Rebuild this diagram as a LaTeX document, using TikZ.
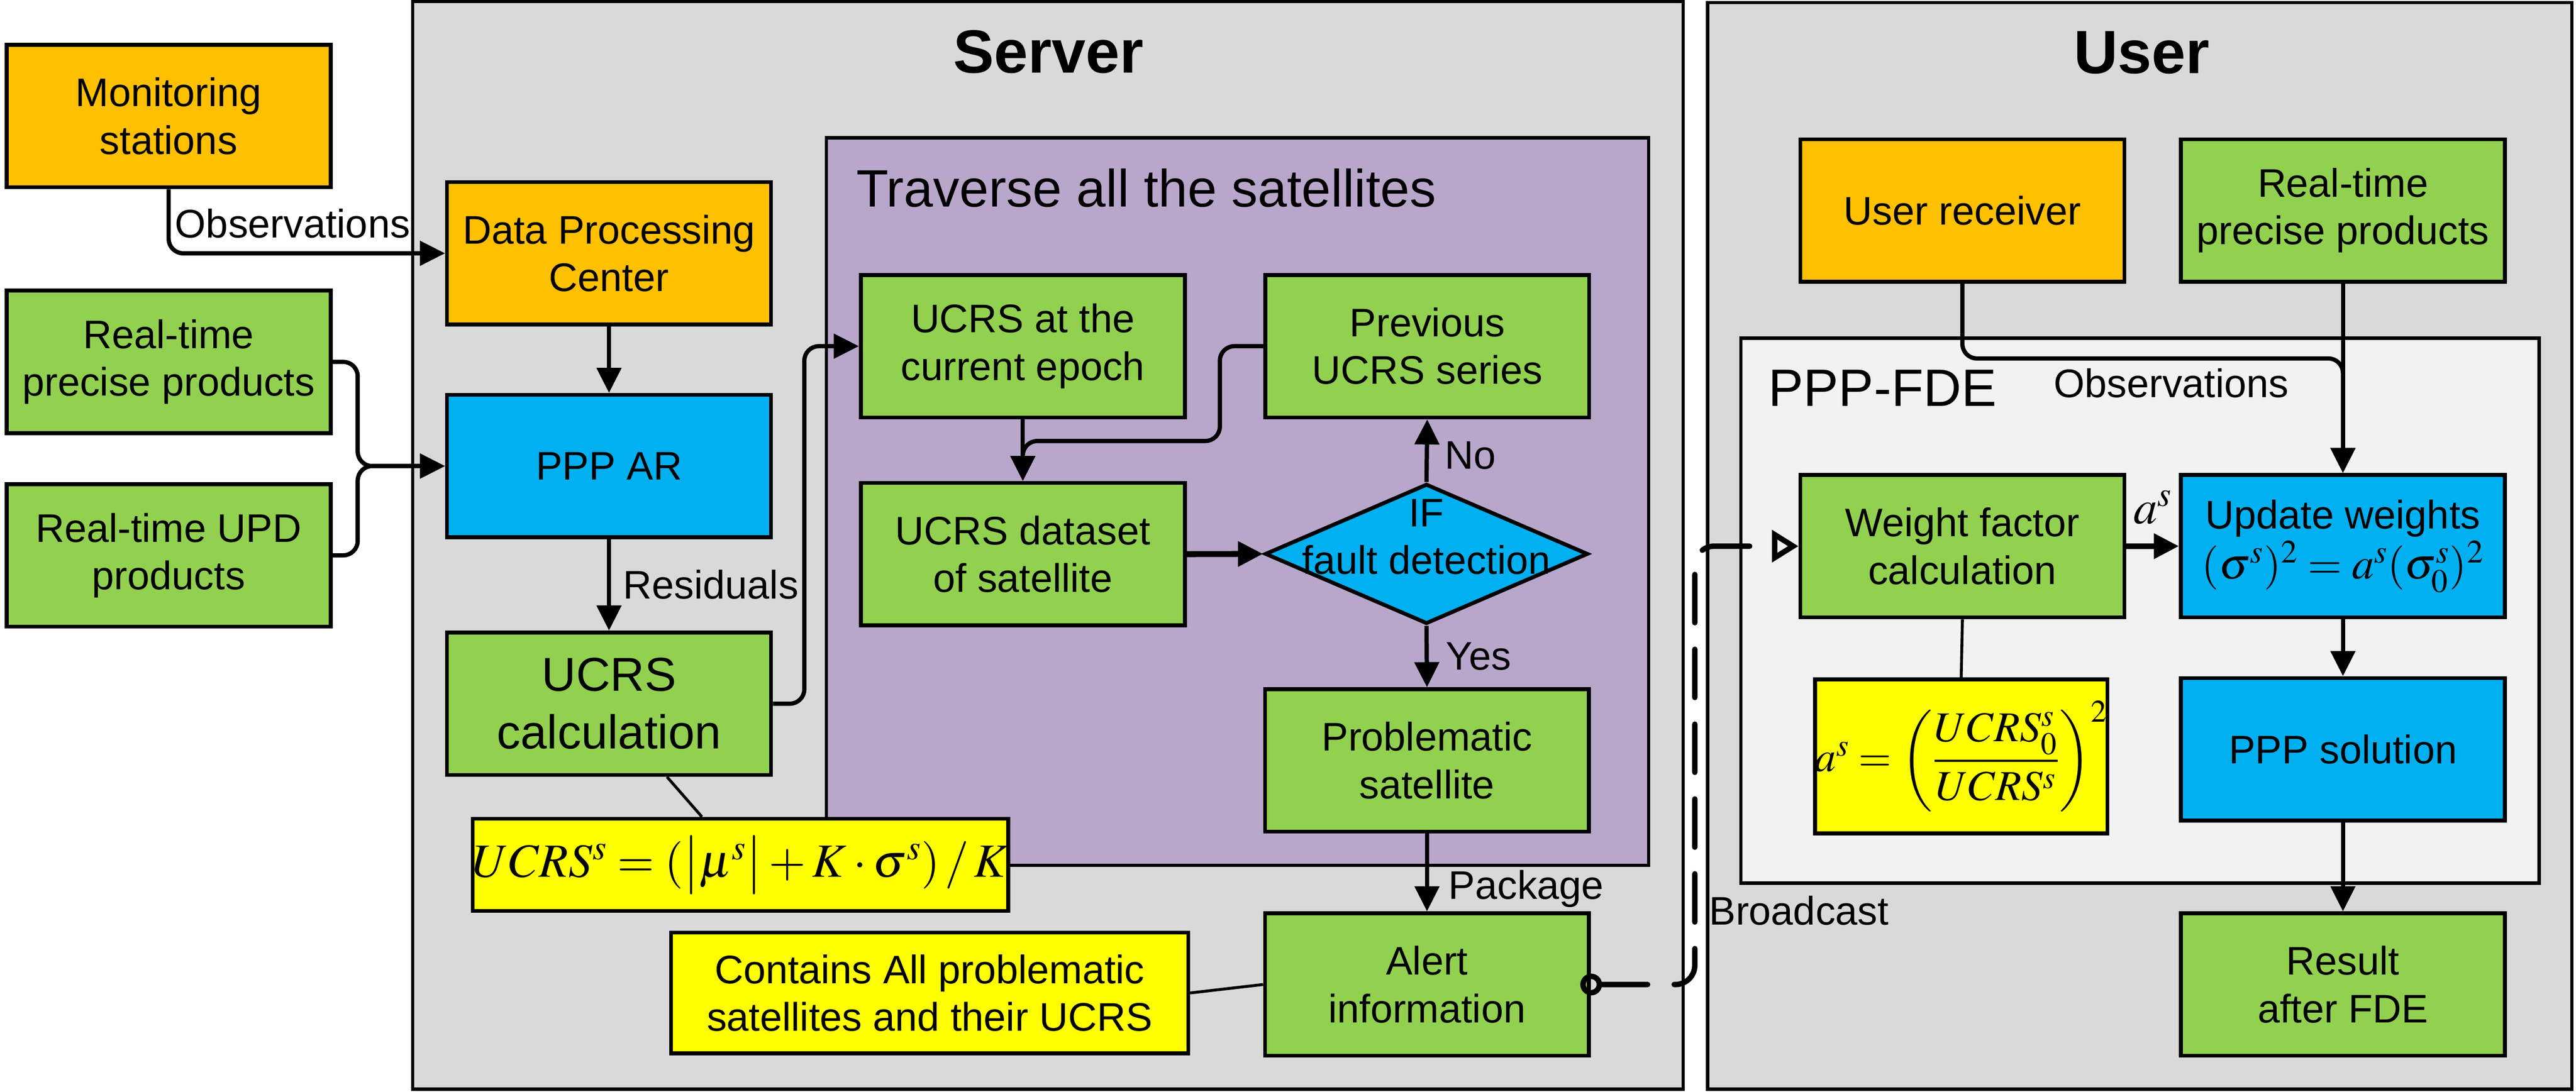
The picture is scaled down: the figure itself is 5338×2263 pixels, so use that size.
\documentclass[tikz,border=0pt]{standalone}
\usepackage{amsmath}
\usepackage{mathptmx}
\usepackage[no-math]{fontspec}
\setmainfont{Liberation Sans}
\usetikzlibrary{arrows.meta,shapes.geometric,calc}
\definecolor{orgc}{HTML}{FFC000}
\definecolor{grnc}{HTML}{92D050}
\definecolor{bluc}{HTML}{00B0F0}
\definecolor{yelc}{HTML}{FFFF00}
\definecolor{pnlc}{HTML}{D9D9D9}
\definecolor{prpc}{HTML}{B8A7CA}
\definecolor{fdec}{HTML}{F2F2F2}

\begin{document}
\begin{tikzpicture}[x=0.01cm, y=-0.01cm,
		txt/.style = {font=\fontsize{23.5}{28}\selectfont},
		box/.style = {draw, line width=2.3pt, minimum width=6.71cm, minimum height=2.95cm, inner sep=0pt, align=center, txt},
		orbox/.style = {box, fill=orgc},
		grbox/.style = {box, fill=grnc},
		blbox/.style = {box, fill=bluc},
		ylbox/.style = {box, fill=yelc},
		panel/.style = {draw, line width=2pt, inner sep=0pt},
		title/.style = {font=\fontsize{36}{42}\selectfont\bfseries, inner sep=0pt},
		lab/.style = {txt, anchor=west, inner sep=0pt},
		arr/.style = {line width=2.5pt, rounded corners=0.3cm, -{Triangle[length=0.52cm,width=0.5cm]}},
		thin/.style = {line width=1.7pt}]
				\useasboundingbox (0,0) rectangle (5338,2263);
				\node[panel, fill=pnlc, minimum width=26.31cm, minimum height=22.53cm] (srv) at (2171.5,1130.5) {};
				\node[panel, fill=pnlc, minimum width=17.9cm, minimum height=22.51cm] (usr) at (4434,1131.5) {};
				\node[panel, fill=prpc, minimum width=17.03cm, minimum height=15.07cm] (trv) at (2564.5,1039.5) {};
				\node[panel, fill=fdec, minimum width=16.53cm, minimum height=11.29cm] (fde) at (4434.5,1265.5) {};
				\node[title] (srvt) at (2173,107) {Server};
				\node[title] (usrt) at (4438,109) {User};
				\node[lab, font=\fontsize{31}{36}\selectfont] (trvt) at (1774,390) {Traverse all the satellites};
				\node[lab, font=\fontsize{31}{36}\selectfont] (fdet) at (3664,804) {PPP-FDE};

				\node[orbox] (ms) at (349.5,240.5) {Monitoring\\stations};
				\node[grbox] (rtp) at (349.5,750) {Real-time\\precise products};
				\node[grbox] (upd) at (349.5,1151) {Real-time UPD\\products};
				\node[orbox] (dpc) at (1262,525) {Data Processing\\Center};
				\node[blbox] (ppp) at (1262,966) {PPP AR};
				\node[grbox, font=\fontsize{28}{34}\selectfont] (ucal) at (1262,1458.5) {UCRS\\calculation};
				\node[grbox] (cur) at (2119.5,717.5) {UCRS at the\\current epoch};
				\node[grbox] (prev) at (2957.5,717.5) {Previous\\UCRS series};
				\node[grbox] (dset) at (2119.5,1148.5) {UCRS dataset\\of satellite};
				\node[draw, line width=2.3pt, fill=bluc, diamond, minimum width=6.69cm, minimum height=2.9cm, inner sep=0pt] (dia) at (2956,1148) {};
				\node[txt, align=center, inner sep=0pt] (ift) at (2956,1113) {IF\\fault detection};
				\node[grbox] (prob) at (2957,1576) {Problematic\\satellite};
				\node[grbox] (alert) at (2957,2040.5) {Alert\\information};
				\node[ylbox, minimum width=10.73cm, minimum height=1.91cm, font=\fontsize{28}{32}\selectfont] (f1) at (1534.5,1792.5) {$UCRS^s=(\bigl|\mu^s\bigr|+K\cdot\sigma^s)\,/\,K$};
				\node[ylbox, minimum width=10.71cm, minimum height=2.5cm] (cont) at (1926.5,2058) {Contains All problematic\\satellites and their UCRS};

				\node[orbox] (urx) at (4066.5,436.5) {User receiver};
				\node[grbox] (urtp) at (4855,436.5) {Real-time\\precise products};
				\node[grbox] (wfc) at (4066.5,1132) {Weight factor\\calculation};
				\node[blbox] (upw) at (4855,1132) {Update weights\\[0.05cm]{\fontsize{26}{30}\selectfont$(\sigma^s)^2=a^s(\sigma^s_0)^2$}};
				\node[ylbox, minimum width=5.98cm, minimum height=3.19cm, font=\fontsize{25}{29}\selectfont] (f2) at (4064,1567.5) {$a^s=\left(\dfrac{UCRS^s_0}{UCRS^s}\right)^{2}$};
				\node[blbox] (pps) at (4855,1553) {PPP solution};
				\node[grbox] (res) at (4855,2040.5) {Result\\after FDE};

				\coordinate (m1) at (2119.5,914);
				\coordinate (ob) at (4855,743);
				\coordinate (bc) at (3512,2040.5);

				\draw[arr] (ms.south) |- (dpc.west);
				\node[lab] (obl) at (362,463) {Observations};
				\draw[arr] (dpc) -- (ppp);
				\draw[arr] (rtp.east) -- ++(52,0) |- (ppp.west);
				\draw[arr] (upd.east) -- ++(52,0) |- (ppp.west);
				\draw[arr] (ppp) -- (ucal);
				\node[lab] (resl) at (1291,1211) {Residuals};
				\draw[arr] (ucal.east) -- ++(65,0) |- (cur.west);
				\draw[arr] (cur) -- (dset);
				\draw[arr] (prev.west) -- ++(-90,0) |- (m1) -- (dset.north);
				\draw[arr, line width=3.5pt] (dset.east) -- (dia.west);
				\draw[arr] (dia.north) -- (prev.south);
				\node[lab] (nol) at (2993,944) {No};
				\draw[arr] (dia.south) -- (prob.north);
				\node[lab] (yesl) at (2996,1360) {Yes};
				\draw[arr] (prob) -- (alert);
				\node[lab] (pkgl) at (3001,1842) {Package};
				\draw[thin] ([xshift=1.2cm]ucal.south) -- ([xshift=-0.8cm]f1.north);
				\draw[thin] (cont.east) -- (alert.west);
				\draw[line width=3.2pt, dash pattern=on 1cm off 0.55cm, line cap=round, rounded corners=0.4cm, {Circle[open,length=0.45cm,width=0.45cm]}-{Triangle[open,length=0.55cm,width=0.65cm]}, shorten <=-0.22cm] (alert.east) -- (bc) |- (wfc.west);
				\node[lab] (bcl) at (3541,1887) {Broadcast};

				\draw[arr] (urx.south) |- (ob) -- (upw.north);
				\draw[arr] (urtp) -- (upw);
				\node[lab] (obl2) at (4255,794) {Observations};
				\draw[arr, line width=3.5pt] (wfc.east) -- node[anchor=south, inner sep=0pt, yshift=0.4cm, font=\fontsize{28}{30}\selectfont] (asl) {$a^s$} (upw.west);
				\draw[thin] (wfc.south) -- (f2.north);
				\draw[arr] (upw) -- (pps);
				\draw[arr] (pps) -- (res);
			\end{tikzpicture}
\end{document}
